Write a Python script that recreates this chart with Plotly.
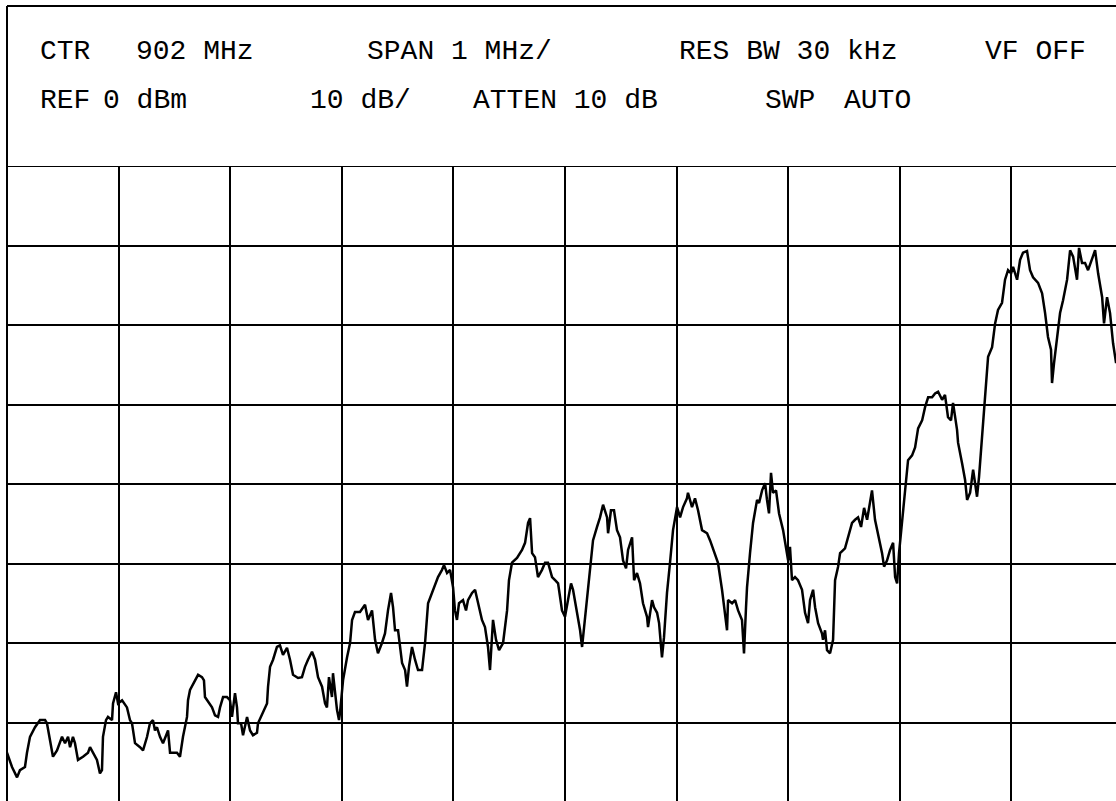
import plotly.graph_objects as go

# Instrument settings shown in the annotation block
CENTER_MHZ = 902.0
SPAN_PER_DIV_MHZ = 1.0
REF_DBM = 0.0
DB_PER_DIV = 10.0
N_HDIV = 10
N_VDIV = 8

# Swept trace: frequency (MHz) and measured level (dBm)
freq_mhz = [
    897.000, 897.045, 897.090, 897.116, 897.161, 897.179, 897.206, 897.251, 897.296, 897.341,
    897.358, 897.412, 897.448, 897.493, 897.520, 897.547, 897.565, 897.591, 897.609, 897.636,
    897.681, 897.726, 897.744, 897.771, 897.806, 897.833, 897.851, 897.860, 897.887, 897.905,
    897.941, 897.950, 897.977, 897.995, 898.031, 898.075, 898.102, 898.120, 898.147, 898.192,
    898.219, 898.255, 898.281, 898.308, 898.326, 898.344, 898.371, 898.398, 898.434, 898.443,
    898.461, 898.523, 898.550, 898.577, 898.613, 898.622, 898.640, 898.685, 898.712, 898.747,
    898.765, 898.774, 898.801, 898.837, 898.864, 898.891, 898.909, 898.936, 898.971, 898.998,
    899.016, 899.043, 899.061, 899.070, 899.097, 899.115, 899.151, 899.178, 899.204, 899.240,
    899.249, 899.294, 899.330, 899.339, 899.357, 899.384, 899.419, 899.446, 899.473, 899.509,
    899.536, 899.563, 899.608, 899.643, 899.670, 899.697, 899.733, 899.760, 899.787, 899.823,
    899.850, 899.867, 899.885, 899.912, 899.921, 899.957, 899.975, 899.984, 900.011, 900.047,
    900.074, 900.092, 900.118, 900.163, 900.208, 900.235, 900.271, 900.298, 900.324, 900.360,
    900.387, 900.414, 900.441, 900.459, 900.477, 900.504, 900.540, 900.567, 900.584, 900.602,
    900.629, 900.656, 900.683, 900.719, 900.746, 900.773, 900.808, 900.835, 900.862, 900.898,
    900.916, 900.943, 900.970, 900.997, 901.014, 901.032, 901.050, 901.086, 901.113, 901.131,
    901.167, 901.194, 901.221, 901.256, 901.283, 901.310, 901.328, 901.355, 901.382, 901.409,
    901.445, 901.481, 901.498, 901.525, 901.570, 901.615, 901.642, 901.669, 901.687, 901.705,
    901.731, 901.758, 901.794, 901.821, 901.848, 901.884, 901.911, 901.938, 901.973, 902.000,
    902.027, 902.054, 902.072, 902.108, 902.135, 902.153, 902.171, 902.197, 902.224, 902.251,
    902.287, 902.314, 902.341, 902.377, 902.386, 902.412, 902.439, 902.466, 902.493, 902.520,
    902.547, 902.565, 902.601, 902.619, 902.645, 902.672, 902.699, 902.735, 902.744, 902.780,
    902.798, 902.825, 902.843, 902.861, 902.869, 902.887, 902.914, 902.941, 902.968, 903.004,
    903.031, 903.058, 903.093, 903.102, 903.138, 903.165, 903.192, 903.228, 903.273, 903.300,
    903.344, 903.371, 903.407, 903.434, 903.452, 903.461, 903.497, 903.524, 903.551, 903.586,
    903.604, 903.622, 903.631, 903.658, 903.685, 903.721, 903.739, 903.766, 903.793, 903.810,
    903.828, 903.846, 903.864, 903.891, 903.918, 903.954, 903.981, 903.999, 904.016, 904.034,
    904.061, 904.088, 904.124, 904.151, 904.178, 904.196, 904.223, 904.241, 904.268, 904.303,
    904.312, 904.330, 904.348, 904.375, 904.402, 904.420, 904.447, 904.465, 904.509, 904.536,
    904.572, 904.599, 904.626, 904.653, 904.680, 904.707, 904.733, 904.751, 904.778, 904.805,
    904.841, 904.859, 904.886, 904.913, 904.940, 904.958, 904.976, 904.993, 905.020, 905.047,
    905.074, 905.110, 905.137, 905.164, 905.200, 905.227, 905.254, 905.289, 905.316, 905.343,
    905.379, 905.405, 905.432, 905.459, 905.477, 905.513, 905.522, 905.558, 905.585, 905.603,
    905.630, 905.657, 905.692, 905.710, 905.737, 905.764, 905.791, 905.827, 905.854, 905.880,
    905.916, 905.943, 905.970, 905.997, 906.015, 906.051, 906.078, 906.104, 906.140, 906.167,
    906.194, 906.239, 906.275, 906.302, 906.328, 906.355, 906.364, 906.382, 906.409, 906.436,
    906.463, 906.499, 906.526, 906.553, 906.588, 906.606, 906.633, 906.660, 906.687, 906.723,
    906.750, 906.777, 906.813, 906.830, 906.857, 906.884, 906.911, 906.938,
]

level_dbm = [
    -73.8, -75.6, -76.9, -76.0, -75.6, -73.8, -71.8, -70.6, -69.7, -69.7,
    -70.1, -74.3, -73.5, -71.8, -72.6, -71.8, -73.1, -71.8, -72.6, -74.7,
    -74.3, -73.8, -73.1, -73.8, -74.7, -76.4, -76.0, -71.8, -69.7, -69.3,
    -69.7, -67.6, -66.2, -67.6, -67.2, -68.1, -69.7, -70.1, -72.6, -73.1,
    -73.5, -71.8, -70.1, -69.7, -71.0, -70.6, -71.8, -72.6, -71.3, -71.0,
    -73.8, -73.8, -74.3, -71.8, -69.3, -67.2, -65.9, -64.7, -64.0, -64.3,
    -64.7, -66.8, -67.4, -68.1, -69.1, -69.3, -68.1, -66.8, -66.8, -67.2,
    -69.3, -66.3, -68.1, -70.1, -70.1, -71.6, -69.3, -71.0, -71.6, -71.3,
    -70.1, -68.8, -67.6, -65.5, -63.0, -62.1, -60.5, -60.3, -61.5, -60.6,
    -62.1, -64.0, -64.4, -64.3, -63.0, -62.1, -61.1, -62.1, -64.3, -65.5,
    -67.6, -68.1, -64.3, -66.8, -63.8, -68.4, -69.7, -68.8, -64.7, -61.8,
    -60.0, -57.1, -56.1, -56.1, -55.2, -57.1, -55.9, -59.6, -61.3, -60.0,
    -58.8, -55.9, -53.7, -55.5, -58.4, -58.4, -62.5, -63.4, -65.5, -63.0,
    -60.5, -62.1, -63.4, -63.4, -60.0, -55.0, -53.7, -52.5, -51.7, -50.8,
    -50.2, -51.2, -50.8, -53.0, -55.9, -57.1, -55.0, -54.6, -55.9, -54.6,
    -53.7, -53.3, -55.0, -57.1, -58.0, -60.5, -63.4, -57.1, -59.6, -60.9,
    -60.0, -55.9, -52.1, -49.9, -49.3, -48.3, -47.4, -44.9, -44.3, -48.7,
    -49.2, -51.7, -50.8, -49.9, -49.9, -51.7, -52.1, -52.5, -55.9, -56.7,
    -54.6, -52.5, -53.3, -56.2, -58.4, -60.5, -58.0, -54.2, -50.4, -47.1,
    -45.4, -44.2, -42.6, -44.2, -46.2, -43.3, -43.3, -45.8, -46.7, -49.6,
    -50.6, -48.3, -46.7, -52.1, -51.2, -52.5, -55.0, -56.7, -58.0, -54.6,
    -55.5, -56.2, -57.5, -60.5, -61.8, -59.3, -53.7, -49.9, -45.8, -42.9,
    -44.2, -42.9, -41.8, -41.1, -42.9, -41.8, -43.3, -45.8, -46.2, -47.1,
    -48.7, -49.9, -53.3, -56.2, -58.4, -54.6, -55.0, -54.6, -55.9, -57.1,
    -61.3, -55.5, -53.0, -48.7, -44.9, -42.0, -42.4, -40.8, -39.9, -42.0,
    -43.7, -38.6, -41.1, -40.8, -43.7, -45.8, -48.3, -49.6, -47.9, -52.1,
    -51.7, -52.1, -53.3, -56.2, -57.5, -54.6, -53.3, -55.5, -57.5, -58.8,
    -59.6, -58.4, -60.9, -61.3, -59.6, -52.1, -50.4, -48.7, -48.1, -46.7,
    -44.9, -44.5, -44.2, -45.4, -43.0, -44.5, -42.0, -40.8, -44.5, -46.2,
    -48.7, -50.4, -49.6, -48.3, -47.4, -51.7, -52.5, -48.7, -44.5, -40.4,
    -37.0, -36.4, -35.4, -33.0, -32.0, -30.3, -29.1, -29.1, -28.6, -28.4,
    -29.4, -28.8, -31.6, -32.0, -29.8, -33.2, -34.8, -37.4, -39.5, -42.0,
    -41.1, -38.2, -41.6, -39.1, -34.1, -29.1, -24.0, -22.8, -19.8, -18.1,
    -17.2, -14.3, -13.1, -13.5, -12.7, -14.3, -11.8, -10.9, -10.7, -13.1,
    -14.0, -14.7, -16.0, -18.5, -21.5, -23.1, -27.3, -24.8, -21.5, -18.5,
    -16.9, -14.3, -10.6, -11.4, -14.3, -10.3, -12.2, -12.2, -13.1, -11.8,
    -10.6, -13.5, -16.5, -19.8, -16.5, -18.5, -22.3, -24.8,
]

# Annotation block text: (text, left edge px, row centre px)
header_labels = [
    ("CTR", 38, 51), ("902 MHz", 134, 51), ("SPAN 1 MHz/", 365, 51),
    ("RES BW 30 kHz", 677, 51), ("VF OFF", 983, 51),
    ("REF", 38, 101), ("0 dBm", 101, 101), ("10 dB/", 308, 101),
    ("ATTEN 10 dB", 471, 101), ("SWP", 763, 101), ("AUTO", 842, 101),
]

# Page geometry (pixels)
W, H = 1116, 801
GRID_LEFT, GRID_TOP = 7, 166
DIV_W, DIV_H = 111.6, 79.5
BOX_TOP = 6

plot_w = W - GRID_LEFT
plot_h = H - GRID_TOP
f_start = CENTER_MHZ - SPAN_PER_DIV_MHZ * N_HDIV / 2
x_range = [f_start, f_start + plot_w / DIV_W * SPAN_PER_DIV_MHZ]
y_range = [REF_DBM - plot_h / DIV_H * DB_PER_DIV, REF_DBM]


def px_to_paper(px, py):
    return (px - GRID_LEFT) / plot_w, (H - py) / plot_h


FONT = "Liberation Mono, DejaVu Sans Mono, monospace"

fig = go.Figure()
fig.add_trace(go.Scatter(
    x=freq_mhz, y=level_dbm, mode="lines",
    line=dict(color="#000000", width=2.5),
    hoverinfo="skip", showlegend=False,
))

annotations = []
for text, lx, cy in header_labels:
    ax, ay = px_to_paper(lx, cy)
    annotations.append(dict(
        text=text, x=ax, y=ay, xref="paper", yref="paper",
        xanchor="left", yanchor="middle", showarrow=False,
        font=dict(family=FONT, size=28, color="#000000"),
    ))

line_style = dict(color="#000000", width=2)
_, box_top = px_to_paper(0, BOX_TOP)
shapes = [
    # left border of the annotation block and graticule
    dict(type="line", xref="paper", yref="paper", x0=0, x1=0, y0=0, y1=box_top, line=line_style),
    # top border of the annotation block
    dict(type="line", xref="paper", yref="paper", x0=0, x1=1.01, y0=box_top, y1=box_top, line=line_style),
    # reference level line (top of graticule)
    dict(type="line", xref="paper", yref="y", x0=0, x1=1.01, y0=REF_DBM, y1=REF_DBM, line=line_style),
]

fig.update_layout(
    width=W, height=H,
    margin=dict(l=GRID_LEFT, r=0, t=GRID_TOP, b=0, pad=0),
    paper_bgcolor="#ffffff", plot_bgcolor="#ffffff",
    annotations=annotations, shapes=shapes,
    xaxis=dict(range=x_range, tick0=f_start, dtick=SPAN_PER_DIV_MHZ,
               showgrid=True, gridcolor="#000000", gridwidth=1.6,
               showticklabels=False, ticks="", zeroline=False, showline=False,
               fixedrange=True),
    yaxis=dict(range=y_range, tick0=REF_DBM, dtick=DB_PER_DIV,
               showgrid=True, gridcolor="#000000", gridwidth=1.6,
               showticklabels=False, ticks="", zeroline=False, showline=False,
               fixedrange=True),
)

fig.write_html("out.html")
